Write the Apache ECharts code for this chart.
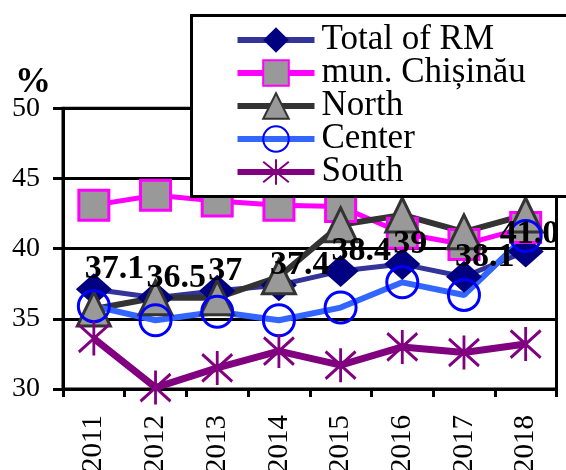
<!DOCTYPE html>
<html><head><meta charset="utf-8">
<script src="https://cdn.jsdelivr.net/npm/echarts@6/dist/echarts.min.js"></script>
<style>html,body{margin:0;padding:0;background:#fff}#c{width:566px;height:470px}</style>
</head><body><div id="c"></div>
<script>
const years = ['2011', '2012', '2013', '2014', '2015', '2016', '2017', '2018'];
const totalRM = [37.1, 36.5, 37.0, 37.4, 38.4, 38.9, 38.0, 39.8];
const totalLabels = ['37.1', '36.5', '37', '37.4', '38.4', '39', '38.1', '41.0'];
const chisinau = [43.1, 43.8, 43.4, 43.1, 43.0, 41.1, 40.3, 41.5];
const north = [35.7, 36.5, 36.5, 38.0, 41.7, 42.4, 41.2, 42.4];
const center = [35.9, 34.9, 35.5, 34.9, 35.8, 37.6, 36.7, 40.9];
const south = [33.6, 30.1, 31.5, 32.7, 31.7, 33.0, 32.6, 33.2];
const seriesNames = ['Total of RM', 'mun. Chișinău', 'North', 'Center', 'South'];
const yMin = 30, yMax = 50, yStep = 5;

const FONT = 'serif';
const starPath = 'path://M10,0 L10,20 M1,2 L19,18 M1,18 L19,2';

const chart = echarts.init(document.getElementById('c'), null, {renderer: 'canvas'});

const totalData = totalRM.map((v, i) => {
  const item = {value: v};
  if (i === totalRM.length - 1) item.label = {offset: [-26, -17]};
  return item;
});

chart.setOption({
  animation: false,
  backgroundColor: '#fff',
  textStyle: {fontFamily: FONT, color: '#000'},
  title: {
    text: '%', left: 10, top: 60,
    textStyle: {fontFamily: FONT, fontSize: 36, fontWeight: 'bold', color: '#000'}
  },
  grid: {
    left: 63, right: 9.5, top: 108.3, bottom: 81,
    outerBoundsMode: 'none', containLabel: false,
    show: true, borderColor: '#000', borderWidth: 3, backgroundColor: 'transparent'
  },
  legend: {
    data: seriesNames,
    orient: 'vertical',
    left: 191.5, top: 15.5,
    padding: [7, 260, 7, 43],
    itemWidth: 77, itemHeight: 32, itemGap: -2,
    backgroundColor: '#fff', borderColor: '#000', borderWidth: 3, borderRadius: 0,
    lineStyle: {width: 6},
    textStyle: {fontFamily: FONT, fontSize: 35, color: '#000', padding: [0, 0, 0, 2]},
    selectedMode: false
  },
  xAxis: {
    type: 'category', data: years, boundaryGap: true,
    axisLine: {lineStyle: {color: '#000', width: 3}},
    axisTick: {show: true, length: 8, lineStyle: {color: '#000', width: 3}},
    axisLabel: {rotate: 90, margin: 26, fontFamily: FONT, fontSize: 29, color: '#000'},
    splitLine: {show: false}
  },
  yAxis: {
    type: 'value', min: yMin, max: yMax, interval: yStep,
    axisLine: {show: true, lineStyle: {color: '#000', width: 3}},
    axisTick: {show: true, length: 10, lineStyle: {color: '#000', width: 3}},
    axisLabel: {margin: 23, fontFamily: FONT, fontSize: 28, color: '#000'},
    splitLine: {show: true, lineStyle: {color: '#000', width: 3}}
  },
  series: [
    {
      name: seriesNames[0], type: 'line', data: totalData,
      symbol: 'diamond', symbolSize: [36, 32],
      lineStyle: {color: '#333399', width: 5},
      itemStyle: {color: '#000080', borderWidth: 0},
      label: {
        show: true, position: 'inside', align: 'left', verticalAlign: 'middle',
        offset: [-9, -20],
        formatter: p => totalLabels[p.dataIndex],
        fontFamily: FONT, fontSize: 34, fontWeight: 'bold', color: '#000'
      },
      z: 2
    },
    {
      name: seriesNames[1], type: 'line', data: chisinau,
      symbol: 'rect', symbolSize: 30,
      lineStyle: {color: '#ff00ff', width: 5},
      itemStyle: {color: '#999999', borderColor: '#ff00ff', borderWidth: 3},
      z: 2
    },
    {
      name: seriesNames[2], type: 'line', data: north,
      symbol: 'triangle', symbolSize: [33, 34],
      lineStyle: {color: '#333333', width: 6},
      itemStyle: {color: '#999999', borderColor: '#333333', borderWidth: 3},
      z: 2
    },
    {
      name: seriesNames[3], type: 'line', data: center,
      symbol: 'circle', symbolSize: 31,
      lineStyle: {color: '#3366ff', width: 6},
      itemStyle: {color: 'rgba(0,0,0,0)', borderColor: '#0000ff', borderWidth: 3},
      z: 2
    },
    {
      name: seriesNames[4], type: 'line', data: south,
      symbol: starPath, symbolSize: [30, 34],
      lineStyle: {color: '#800080', width: 7},
      itemStyle: {color: '#800080', borderColor: '#800080', borderWidth: 3},
      z: 2
    }
  ]
});
</script>
</body></html>
